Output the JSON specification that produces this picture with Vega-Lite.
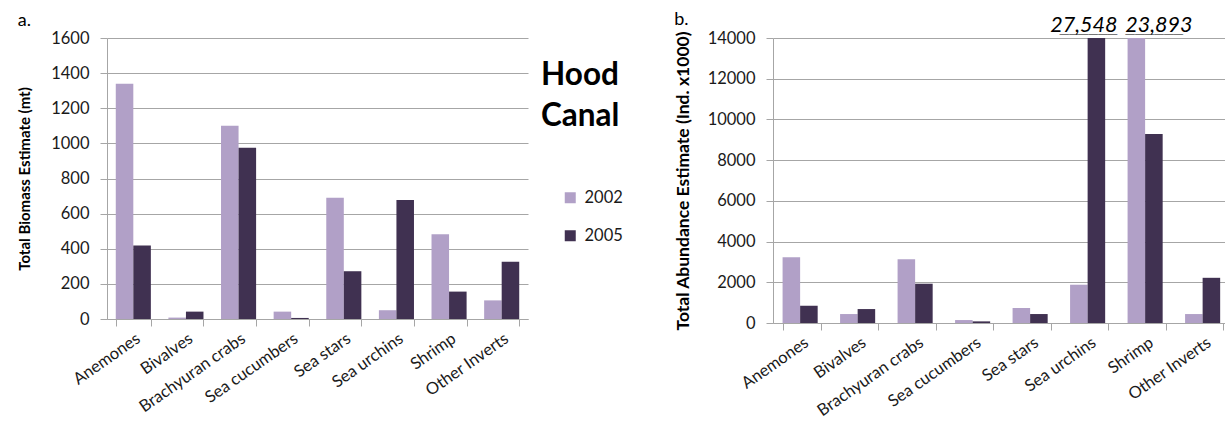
{
  "$schema": "https://vega.github.io/schema/vega-lite/v6.json",
  "background": "white",
  "padding": {"left": 17, "top": 11, "right": 0, "bottom": 0},
  "spacing": 51,
  "config": {
    "font": "Lato",
    "view": {"stroke": null},
    "axis": {
      "gridColor": "#a6a6a6",
      "domainColor": "#a6a6a6",
      "tickColor": "#a6a6a6",
      "labelColor": "#1a1a1a",
      "labelFont": "Lato",
      "labelFontSize": 16.5,
      "titleFont": "Lato",
      "titleFontWeight": "bold",
      "titleFontSize": 15,
      "titleColor": "#000000",
      "tickSize": 7,
      "labelPadding": 11
    },
    "title": {"font": "Lato", "fontSize": 18, "fontWeight": "normal", "color": "#000000", "anchor": "start", "frame": "bounds", "offset": 0}
  },
  "data": {
    "values": [
      {"group": "Anemones", "year": "2002", "biomass": 1340, "abundance": 3230},
      {"group": "Anemones", "year": "2005", "biomass": 418, "abundance": 850},
      {"group": "Bivalves", "year": "2002", "biomass": 8, "abundance": 440},
      {"group": "Bivalves", "year": "2005", "biomass": 42, "abundance": 685},
      {"group": "Brachyuran crabs", "year": "2002", "biomass": 1100, "abundance": 3130},
      {"group": "Brachyuran crabs", "year": "2005", "biomass": 975, "abundance": 1930},
      {"group": "Sea cucumbers", "year": "2002", "biomass": 42, "abundance": 145},
      {"group": "Sea cucumbers", "year": "2005", "biomass": 6, "abundance": 80},
      {"group": "Sea stars", "year": "2002", "biomass": 690, "abundance": 735},
      {"group": "Sea stars", "year": "2005", "biomass": 272, "abundance": 440},
      {"group": "Sea urchins", "year": "2002", "biomass": 50, "abundance": 1880},
      {"group": "Sea urchins", "year": "2005", "biomass": 677, "abundance": 27548},
      {"group": "Shrimp", "year": "2002", "biomass": 482, "abundance": 23893},
      {"group": "Shrimp", "year": "2005", "biomass": 156, "abundance": 9285},
      {"group": "Other Inverts", "year": "2002", "biomass": 106, "abundance": 440},
      {"group": "Other Inverts", "year": "2005", "biomass": 326, "abundance": 2220}
    ]
  },
  "resolve": {"scale": {"color": "independent"}, "legend": {"color": "independent"}},
  "hconcat": [
    {
      "width": 421,
      "height": 281,
      "title": {"text": "a.", "dy": 4},
      "mark": {"type": "bar"},
      "encoding": {
        "x": {
          "field": "group", "type": "nominal", "sort": null,
          "scale": {"paddingInner": 0.3333, "paddingOuter": 0.1667},
          "axis": {"title": null, "labelAngle": -35, "grid": false, "tickBand": "extent", "labelPadding": 4}
        },
        "xOffset": {"field": "year", "type": "nominal"},
        "y": {
          "field": "biomass", "type": "quantitative",
          "scale": {"domain": [0, 1600]},
          "axis": {"title": "Total Biomass Estimate (mt)", "format": "d", "values": [0, 200, 400, 600, 800, 1000, 1200, 1400, 1600], "titlePadding": 18}
        },
        "color": {
          "field": "year", "type": "nominal",
          "scale": {"domain": ["2002", "2005"], "range": ["#b1a0c7", "#403151"]},
          "legend": {
            "orient": "none", "legendX": 434, "legendY": 22,
            "title": ["Hood", "Canal"], "titleFontSize": 31.5, "titleFontWeight": "bold", "titleLineHeight": 41,
            "titleColor": "#000000", "titlePadding": 57,
            "labelFontSize": 16.5, "labelColor": "#1a1a1a", "symbolType": "square", "symbolSize": 121,
            "symbolStrokeWidth": 0, "symbolOffset": 21, "rowPadding": 21, "labelOffset": 6
          }
        }
      }
    },
    {
      "width": 460,
      "height": 285,
      "title": {"text": "b.", "dy": 18},
      "encoding": {
        "x": {
          "field": "group", "type": "nominal", "sort": null,
          "scale": {"paddingInner": 0.3333, "paddingOuter": 0.1667},
          "axis": {"title": null, "labelAngle": -35, "grid": false, "tickBand": "extent", "labelPadding": 4}
        },
        "xOffset": {"field": "year", "type": "nominal"},
        "y": {
          "field": "abundance", "type": "quantitative",
          "scale": {"domain": [0, 14000], "clamp": true},
          "axis": {"title": "Total Abundance Estimate (Ind. x1000)", "titleFontSize": 17.5, "format": "d", "values": [0, 2000, 4000, 6000, 8000, 10000, 12000, 14000], "titlePadding": 15}
        }
      },
      "layer": [
        {
          "mark": {"type": "bar"},
          "encoding": {
            "color": {
              "field": "year", "type": "nominal",
              "scale": {"domain": ["2002", "2005"], "range": ["#b1a0c7", "#403151"]},
              "legend": null
            }
          }
        },
        {
          "transform": [{"filter": "datum.group == 'Sea urchins' && datum.year == '2005'"}],
          "mark": {"type": "text", "align": "right", "baseline": "alphabetic", "dx": 21, "dy": -6, "fontStyle": "italic", "fontSize": 21.5, "color": "#000000"},
          "encoding": {"text": {"field": "abundance", "type": "quantitative", "format": ","}}
        },
        {
          "transform": [{"filter": "datum.group == 'Sea urchins' && datum.year == '2005'"}],
          "mark": {"type": "text", "align": "right", "baseline": "alphabetic", "dx": 21, "dy": -7, "font": "DejaVu Sans Mono", "fontSize": 16, "color": "#000000"},
          "encoding": {"text": {"value": "______"}}
        },
        {
          "transform": [{"filter": "datum.group == 'Shrimp' && datum.year == '2002'"}],
          "mark": {"type": "text", "align": "left", "baseline": "alphabetic", "dx": -11, "dy": -6, "fontStyle": "italic", "fontSize": 21.5, "color": "#000000"},
          "encoding": {"text": {"field": "abundance", "type": "quantitative", "format": ","}}
        },
        {
          "transform": [{"filter": "datum.group == 'Shrimp' && datum.year == '2002'"}],
          "mark": {"type": "text", "align": "left", "baseline": "alphabetic", "dx": -11, "dy": -7, "font": "DejaVu Sans Mono", "fontSize": 16, "color": "#000000"},
          "encoding": {"text": {"value": "______"}}
        }
      ]
    }
  ]
}
